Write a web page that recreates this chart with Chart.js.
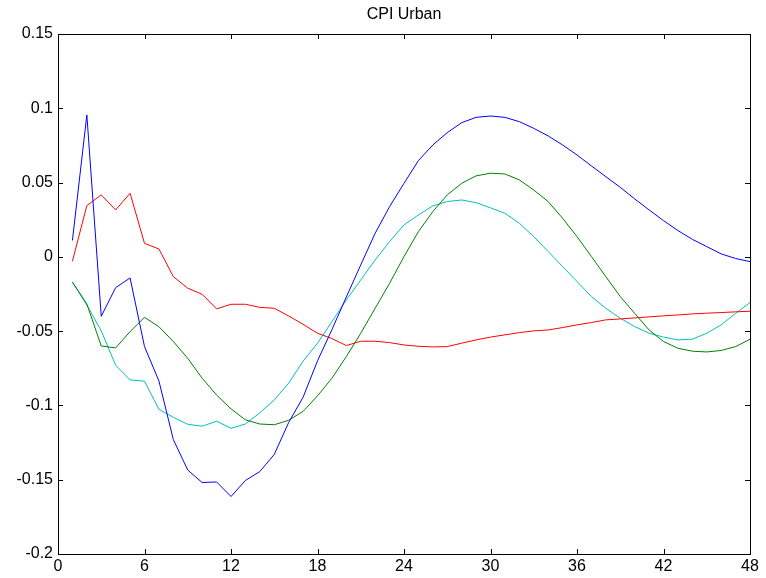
<!DOCTYPE html>
<html>
<head>
<meta charset="utf-8">
<script src="https://cdn.jsdelivr.net/npm/chart.js@4.4.1/dist/chart.umd.min.js"></script>
<style>
  html, body { margin: 0; padding: 0; background: #fff; }
  #wrap { width: 766px; height: 578px; }
</style>
</head>
<body>
<div id="wrap"><canvas id="irfChart"></canvas></div>
<script>
var horizon = [1,2,3,4,5,6,7,8,9,10,11,12,13,14,15,16,17,18,19,20,21,22,23,24,
               25,26,27,28,29,30,31,32,33,34,35,36,37,38,39,40,41,42,43,44,45,46,47,48];

var blueSeries = [0.011, 0.0955, -0.040, -0.0207, -0.0142, -0.0604, -0.0835, -0.123, -0.1435, -0.1519,
    -0.1515, -0.1613, -0.1505, -0.1445, -0.1330, -0.1115, -0.0945, -0.070, -0.049, -0.027,
    -0.0054, 0.0159, 0.0338, 0.0495, 0.0648, 0.0753, 0.0836, 0.0903, 0.0939, 0.0948,
    0.0939, 0.091, 0.0865, 0.0814, 0.0753, 0.0686, 0.0612, 0.054, 0.0468, 0.039,
    0.0316, 0.0244, 0.0177, 0.0118, 0.0069, 0.002, -0.0011, -0.0032];

var greenSeries = [-0.017, -0.0317, -0.060, -0.0613, -0.0503, -0.0407, -0.047, -0.057, -0.0683, -0.0817,
    -0.093, -0.1023, -0.1097, -0.1125, -0.1130, -0.110, -0.104, -0.0936, -0.0817, -0.0671,
    -0.0514, -0.0346, -0.0178, 0.0002, 0.017, 0.0305, 0.0417, 0.0495, 0.0545, 0.0563,
    0.0558, 0.0518, 0.045, 0.0372, 0.026, 0.0136, 0.0002, -0.0133, -0.0267, -0.038,
    -0.0492, -0.057, -0.0615, -0.0635, -0.064, -0.063, -0.0604, -0.0555];

var redSeries = [-0.003, 0.0345, 0.0417, 0.0316, 0.0428, 0.0091, 0.0053, -0.0133, -0.0211, -0.0252,
    -0.035, -0.0319, -0.0319, -0.034, -0.0346, -0.0398, -0.0454, -0.0514, -0.055, -0.0597,
    -0.0568, -0.0568, -0.0577, -0.0593, -0.0602, -0.0606, -0.0604, -0.0581, -0.0559, -0.054,
    -0.0525, -0.051, -0.0498, -0.0492, -0.0476, -0.0458, -0.0442, -0.0424, -0.0418, -0.0411,
    -0.0404, -0.0397, -0.0391, -0.0384, -0.0379, -0.0375, -0.037, -0.0366];

var cyanSeries = [-0.017, -0.0324, -0.0498, -0.073, -0.0828, -0.0837, -0.1026, -0.108, -0.1127, -0.114,
    -0.1106, -0.1154, -0.1125, -0.105, -0.0963, -0.085, -0.0702, -0.0581, -0.0436, -0.029,
    -0.0155, -0.0021, 0.0103, 0.0215, 0.0282, 0.0343, 0.0372, 0.0383, 0.0365, 0.033,
    0.0293, 0.0226, 0.0136, 0.0036, -0.0065, -0.0166, -0.0267, -0.0346, -0.0413, -0.0469,
    -0.0514, -0.054, -0.0559, -0.0554, -0.0514, -0.0458, -0.038, -0.0308];

var xTicks = [0, 6, 12, 18, 24, 30, 36, 42, 48];
var yTicks = [-0.2, -0.15, -0.1, -0.05, 0, 0.05, 0.1, 0.15];

function toPoints(values) {
    return values.map(function (v, i) { return { x: horizon[i], y: v }; });
}

function line(values, color) {
    return {
        data: toPoints(values),
        borderColor: color,
        borderWidth: 1,
        pointRadius: 0,
        fill: false,
        tension: 0
    };
}

// matlab style box with inward ticks on all four sides
var boxPlugin = {
    id: 'boxPlugin',
    afterDraw: function (chart) {
        var ctx = chart.ctx;
        var a = chart.chartArea;
        var xs = chart.scales.x, ys = chart.scales.y;
        var len = 5;
        ctx.save();
        ctx.strokeStyle = '#000';
        ctx.lineWidth = 1;
        ctx.beginPath();
        xTicks.forEach(function (t) {
            var px = Math.round(xs.getPixelForValue(t)) + 0.5;
            ctx.moveTo(px, a.bottom); ctx.lineTo(px, a.bottom - len);
            ctx.moveTo(px, a.top); ctx.lineTo(px, a.top + len);
        });
        yTicks.forEach(function (t) {
            var py = Math.round(ys.getPixelForValue(t)) + 0.5;
            ctx.moveTo(a.left, py); ctx.lineTo(a.left + len, py);
            ctx.moveTo(a.right, py); ctx.lineTo(a.right - len, py);
        });
        ctx.stroke();
        ctx.strokeRect(Math.round(a.left) + 0.5, Math.round(a.top) + 0.5,
            Math.round(a.right - a.left), Math.round(a.bottom - a.top));
        ctx.restore();
    }
};

var tickFont = { family: 'Liberation Sans, Arial, sans-serif', size: 16 };

var irfChart = new Chart(document.getElementById('irfChart'), {
    type: 'line',
    data: {
        datasets: [
            line(blueSeries, '#0000ff'),
            line(greenSeries, '#008000'),
            line(redSeries, '#ff0000'),
            line(cyanSeries, '#00bfbf')
        ]
    },
    options: {
        responsive: true,
        maintainAspectRatio: false,
        animation: false,
        layout: { padding: { left: 0, right: 16, top: 0, bottom: 0 } },
        plugins: {
            legend: { display: false },
            tooltip: { enabled: false },
            title: {
                display: true,
                text: 'CPI Urban',
                fullSize: false,
                color: '#000',
                font: { family: 'Liberation Sans, Arial, sans-serif', size: 16, weight: 'normal' },
                padding: { top: 5, bottom: 9.8 }
            }
        },
        scales: {
            x: {
                type: 'linear',
                min: 0,
                max: 48,
                afterBuildTicks: function (s) { s.ticks = xTicks.map(function (v) { return { value: v }; }); },
                afterFit: function (s) { s.height = 24; },
                grid: { display: false, drawTicks: false },
                border: { display: false },
                ticks: { color: '#000', font: tickFont, padding: 3, maxRotation: 0, autoSkip: false }
            },
            y: {
                type: 'linear',
                min: -0.2,
                max: 0.15,
                afterBuildTicks: function (s) { s.ticks = yTicks.map(function (v) { return { value: v }; }); },
                afterFit: function (s) { s.width = 58; },
                grid: { display: false, drawTicks: false },
                border: { display: false },
                ticks: {
                    color: '#000',
                    font: tickFont,
                    padding: 5,
                    autoSkip: false,
                    callback: function (v) { return String(Math.round(v * 100) / 100); }
                }
            }
        }
    },
    plugins: [boxPlugin]
});
</script>
</body>
</html>
